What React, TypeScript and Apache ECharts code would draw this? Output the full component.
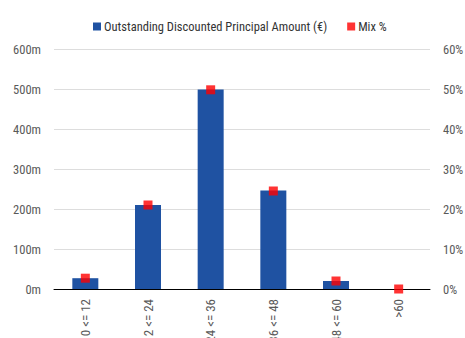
import React, { useEffect, useRef } from "react";
import * as echarts from "echarts";

// Remaining term buckets (months)
const categories = ["0 <= 12", "12 <= 24", "24 <= 36", "36 <= 48", "48 <= 60", ">60"];
// Outstanding discounted principal amount, in millions of euro
const principalAmount = [27, 210, 499, 246, 20, 0];
// Share of the total, percent
const mixPercent = [2.7, 21.0, 49.8, 24.5, 2.0, 0];

const leftTicks = { min: 0, max: 600, interval: 100 };
const rightTicks = { min: 0, max: 60, interval: 10 };

const FONT = "'Liberation Sans Narrow', 'Roboto Condensed', 'Arial Narrow', 'Liberation Sans', sans-serif";
const TEXT = "#595959";

export default function App() {
  const ref = useRef<HTMLDivElement>(null);

  useEffect(() => {
    document.body.style.margin = "0";
    if (!ref.current) return;
    const chart = echarts.init(ref.current, null, { renderer: "svg" });
    chart.setOption({
      animation: false,
      backgroundColor: "#ffffff",
      textStyle: { fontFamily: FONT },
      legend: {
        top: 15,
        left: 88,
        itemWidth: 8,
        itemHeight: 8,
        itemGap: 20,
        icon: "rect",
        textStyle: { color: "#333333", fontSize: 12.5, fontFamily: FONT, padding: [0, 0, 0, -2] },
        data: [
          { name: "Outstanding Discounted Principal Amount (€)" },
          { name: "Mix %" },
        ],
      },
      // fixed plot box; the long rotated labels simply run off the bottom edge
      grid: {
        left: 54,
        right: 35,
        top: 49,
        bottom: 49,
        containLabel: false,
        outerBoundsMode: "none",
      },
      xAxis: {
        type: "category",
        data: categories,
        axisLine: { show: true, lineStyle: { color: "#000000", width: 1 } },
        axisTick: { show: false },
        axisLabel: {
          rotate: 90,
          margin: 10,
          color: TEXT,
          fontSize: 13,
          fontFamily: FONT,
          interval: 0,
          hideOverlap: false,
        },
      },
      yAxis: [
        {
          type: "value",
          ...leftTicks,
          axisLine: { show: false },
          axisTick: { show: false },
          splitLine: { show: true, lineStyle: { color: "#dddddd", width: 1 } },
          axisLabel: {
            color: TEXT,
            fontSize: 12.5,
            fontFamily: FONT,
            margin: 13,
            formatter: (v: number) => `${v}m`,
          },
        },
        {
          type: "value",
          ...rightTicks,
          axisLine: { show: false },
          axisTick: { show: false },
          splitLine: { show: false },
          axisLabel: {
            color: TEXT,
            fontSize: 12.5,
            fontFamily: FONT,
            margin: 13,
            formatter: (v: number) => `${v}%`,
          },
        },
      ],
      series: [
        {
          name: "Outstanding Discounted Principal Amount (€)",
          type: "bar",
          yAxisIndex: 0,
          data: principalAmount,
          barWidth: 26,
          itemStyle: { color: "#1f52a2" },
        },
        {
          name: "Mix %",
          type: "scatter",
          yAxisIndex: 1,
          data: mixPercent,
          symbol: "rect",
          symbolSize: 9,
          itemStyle: { color: "#ff0000" },
          z: 5,
        },
      ],
    });
    return () => chart.dispose();
  }, []);

  return (
    <div
      ref={ref}
      style={{ position: "absolute", left: 0, top: 0, width: 465, height: 338 }}
    />
  );
}
